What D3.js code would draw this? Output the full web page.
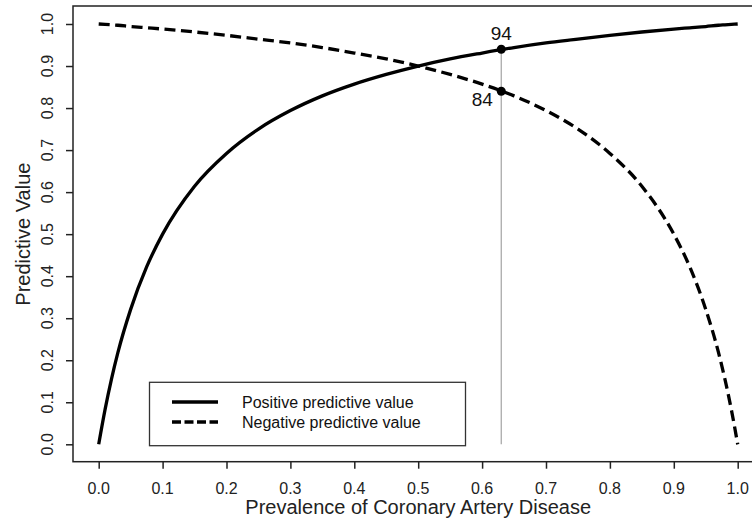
<!DOCTYPE html>
<html>
<head>
<meta charset="utf-8">
<script src="https://cdn.jsdelivr.net/npm/d3@7"></script>
<style>
  body { margin: 0; background: #fff; }
  svg { font-family: "Liberation Sans", Arial, sans-serif; }
  .ticklab { font-size: 16px; fill: #222; }
</style>
</head>
<body>
<div id="chart"></div>
<script>
// prevalence values
var prevalence = [0, 0.01, 0.02, 0.03, 0.05, 0.075, 0.1, 0.15, 0.2, 0.25, 0.3, 0.35, 0.4, 0.45, 0.5,
                  0.55, 0.6, 0.65, 0.7, 0.75, 0.8, 0.85, 0.9, 0.925, 0.95, 0.97, 0.98, 0.99, 1];
var ppvValues = [0, 0.083, 0.155, 0.218, 0.321, 0.422, 0.5, 0.614, 0.692, 0.75, 0.794, 0.829, 0.857, 0.88, 0.9,
                 0.917, 0.931, 0.944, 0.955, 0.964, 0.973, 0.981, 0.988, 0.991, 0.994, 0.997, 0.998, 0.999, 1];
var npvValues = [1, 0.999, 0.998, 0.997, 0.994, 0.991, 0.988, 0.981, 0.973, 0.964, 0.955, 0.944, 0.931, 0.917, 0.9,
                 0.88, 0.857, 0.829, 0.794, 0.75, 0.692, 0.614, 0.5, 0.422, 0.321, 0.218, 0.155, 0.083, 0];
var markX = 0.63;
var markPPV = 0.94;
var markNPV = 0.84;
var xTicks = [0, 0.1, 0.2, 0.3, 0.4, 0.5, 0.6, 0.7, 0.8, 0.9, 1.0];
var yTicks = [0, 0.1, 0.2, 0.3, 0.4, 0.5, 0.6, 0.7, 0.8, 0.9, 1.0];
var legendLabels = ["Positive predictive value", "Negative predictive value"];

var W = 752, H = 529;
var svg = d3.select("#chart").append("svg").attr("width", W).attr("height", H);

var x = d3.scaleLinear().domain([0, 1]).range([98.7, 737.7]);
var y = d3.scaleLinear().domain([0, 1]).range([444.3, 24]);
var fmt = d3.format(".1f");

// box
svg.append("rect").attr("x", 73).attr("y", 6).attr("width", 700).attr("height", 455.7)
  .attr("fill", "none").attr("stroke", "#222").attr("stroke-width", 1.5);

// tick marks from d3 axes, labels drawn separately
var xAxis = svg.append("g").attr("transform", "translate(0,461.7)")
  .call(d3.axisBottom(x).tickValues(xTicks).tickFormat("").tickSize(7));
var yAxis = svg.append("g").attr("transform", "translate(73,0)")
  .call(d3.axisLeft(y).tickValues(yTicks).tickFormat("").tickSize(7));
xAxis.select(".domain").remove();
yAxis.select(".domain").remove();
svg.selectAll(".tick line").attr("stroke", "#222").attr("stroke-width", 1.5);

svg.append("g").selectAll("text").data(xTicks).join("text")
  .attr("class", "ticklab")
  .attr("x", function(d) { return x(d); }).attr("y", 493.5)
  .attr("text-anchor", "middle").text(fmt);
svg.append("g").selectAll("text").data(yTicks).join("text")
  .attr("class", "ticklab")
  .attr("transform", function(d) { return "translate(47," + y(d) + ") rotate(-90)"; })
  .attr("dy", "0.35em").attr("text-anchor", "middle").text(fmt);

svg.append("text").attr("x", (x(0) + x(1)) / 2).attr("y", 514).attr("text-anchor", "middle")
  .attr("font-size", 20).attr("fill", "#222").text("Prevalence of Coronary Artery Disease");
svg.append("text").attr("transform", "translate(30," + (y(0) + y(1)) / 2 + ") rotate(-90)")
  .attr("text-anchor", "middle").attr("font-size", 20).attr("fill", "#222").text("Predictive Value");

var line = d3.line().curve(d3.curveMonotoneX);

// vertical marker line
svg.append("line").attr("x1", x(markX)).attr("x2", x(markX)).attr("y1", y(0)).attr("y2", y(markPPV))
  .attr("stroke", "#aaa").attr("stroke-width", 1.3);

svg.append("path")
  .attr("d", line(prevalence.map(function(p, i) { return [x(p), y(ppvValues[i])]; })))
  .attr("fill", "none").attr("stroke", "#000").attr("stroke-width", 3.3);
svg.append("path")
  .attr("d", line(prevalence.map(function(p, i) { return [x(p), y(npvValues[i])]; })))
  .attr("fill", "none").attr("stroke", "#000").attr("stroke-width", 3.3).attr("stroke-dasharray", "11,5.5");

svg.append("circle").attr("cx", x(markX)).attr("cy", y(markPPV)).attr("r", 4.5).attr("fill", "#000");
svg.append("circle").attr("cx", x(markX)).attr("cy", y(markNPV)).attr("r", 4.5).attr("fill", "#000");
svg.append("text").attr("x", x(markX)).attr("y", y(markPPV) - 9).attr("text-anchor", "middle")
  .attr("font-size", 19).attr("fill", "#111").text(Math.round(markPPV * 100));
svg.append("text").attr("x", x(markX) - 8.5).attr("y", y(markNPV) + 15).attr("text-anchor", "end")
  .attr("font-size", 19).attr("fill", "#111").text(Math.round(markNPV * 100));

// legend
var lg = svg.append("g");
lg.append("rect").attr("x", 149.5).attr("y", 382.3).attr("width", 316).attr("height", 63.4)
  .attr("fill", "#fff").attr("stroke", "#333").attr("stroke-width", 1.3);
legendLabels.forEach(function(t, i) {
  var ly = 402 + i * 20;
  lg.append("line").attr("x1", 172).attr("x2", 218).attr("y1", ly).attr("y2", ly)
    .attr("stroke", "#000").attr("stroke-width", 3.3)
    .attr("stroke-dasharray", i === 1 ? "9,3.5" : null);
  lg.append("text").attr("x", 242).attr("y", ly).attr("dy", "0.35em")
    .attr("font-size", 16).attr("fill", "#111").text(t);
});
</script>
</body>
</html>
